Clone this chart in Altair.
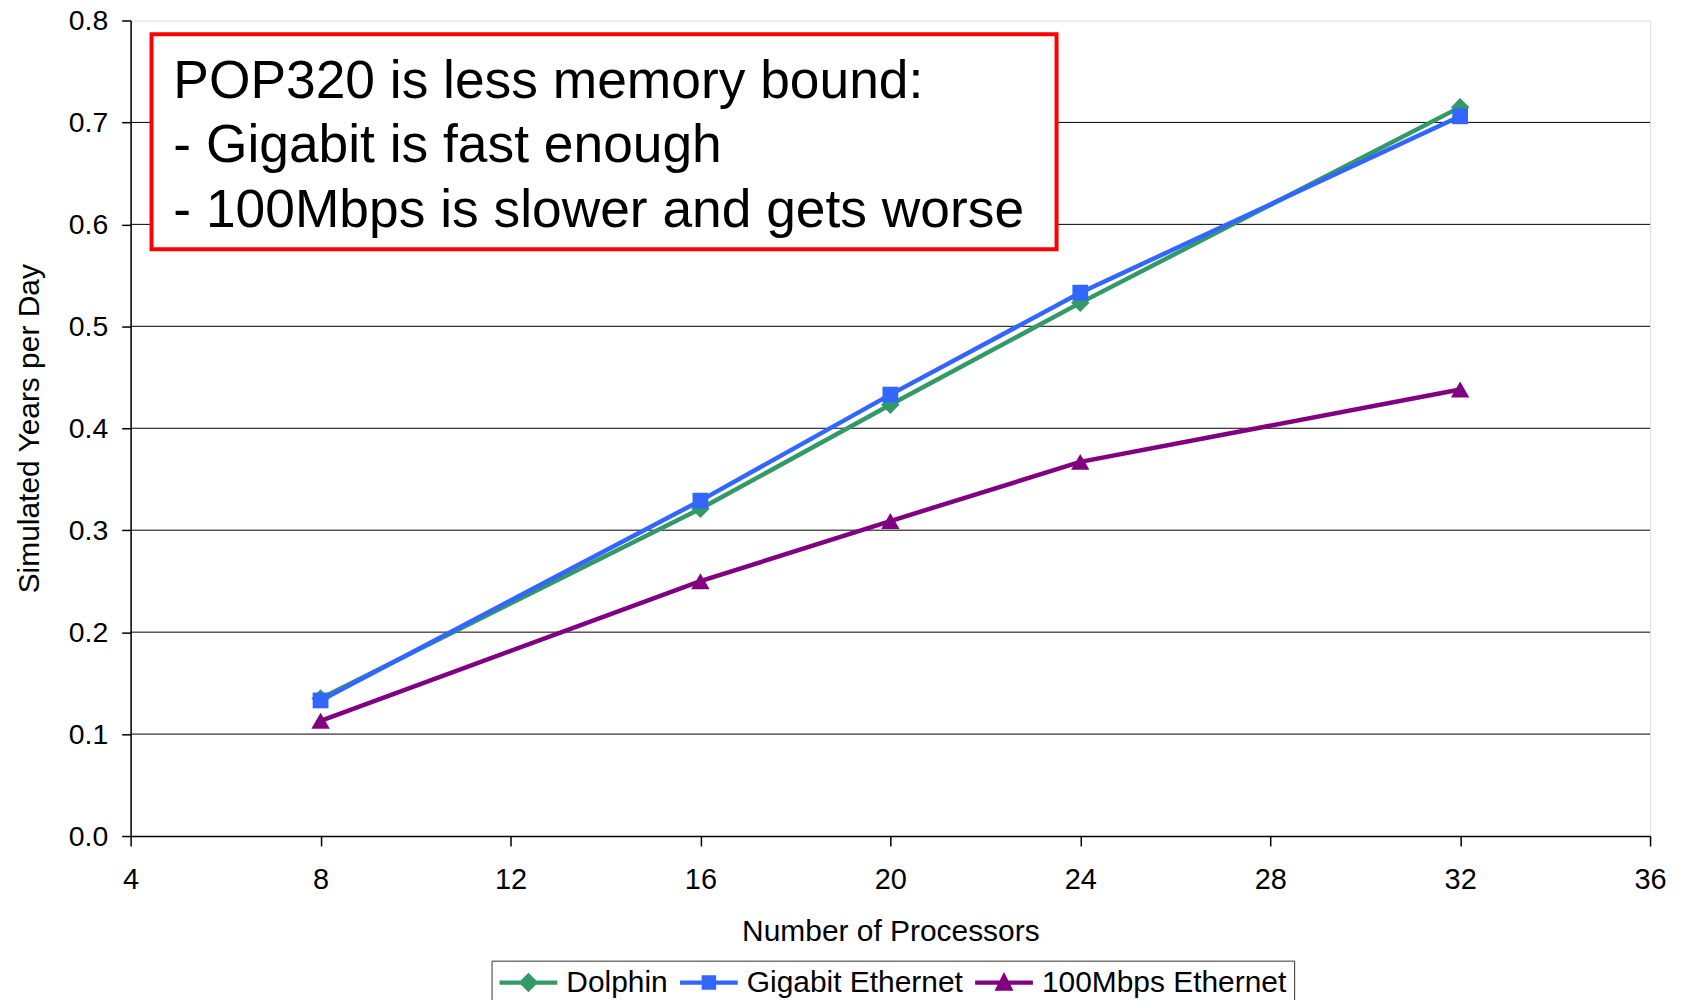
import altair as alt
import pandas as pd

# ---- data ----
processors = [8, 16, 20, 24, 32]
dolphin = [0.135, 0.321, 0.423, 0.523, 0.715]
gigabit = [0.133, 0.329, 0.433, 0.533, 0.706]
mbps100 = [0.113, 0.250, 0.309, 0.367, 0.438]

series_names = ["Dolphin", "Gigabit Ethernet", "100Mbps Ethernet"]
series_values = [dolphin, gigabit, mbps100]
series_colors = ["#339966", "#3366FF", "#800080"]
series_shapes = ["diamond", "square", "triangle-up"]
series_sizes = [340, 250, 340]

# legend symbols: a line segment with the marker in its middle
legend_paths = [
    "M-2.07,-0.15H2.07V0.15H-2.07Z M0,-0.7L0.7,0L0,0.7L-0.7,0Z",
    "M-2.07,-0.15H2.07V0.15H-2.07Z M-0.52,-0.52H0.52V0.52H-0.52Z",
    "M-2.07,-0.15H2.07V0.15H-2.07Z M0,-0.75L0.68,0.58H-0.68Z",
]

x_ticks = [4, 8, 12, 16, 20, 24, 28, 32, 36]
y_ticks = [0.0, 0.1, 0.2, 0.3, 0.4, 0.5, 0.6, 0.7, 0.8]
grid_values = y_ticks[1:-1]

note_lines = [
    "POP320 is less memory bound:",
    "- Gigabit is fast enough",
    "- 100Mbps is slower and gets worse",
]
note_box_x = [4.44, 23.5]
note_box_y = [0.5755, 0.7866]
note_text_x = [4.9]
note_text_y = [0.7243]

x_title = "Number of Processors"
y_title = "Simulated Years per Day"

FONT = "Liberation Sans"

# ---- tables ----
rows = []
for name, vals in zip(series_names, series_values):
    for p, v in zip(processors, vals):
        rows.append({"processors": p, "value": v, "series": name})
df = pd.DataFrame(rows)
grid_df = pd.DataFrame({"g": grid_values})
box_df = pd.DataFrame({"x": [note_box_x[0]], "x2": [note_box_x[1]],
                       "y": [note_box_y[0]], "y2": [note_box_y[1]]})
text_df = pd.DataFrame({"x": note_text_x, "y": note_text_y})

x_scale = alt.Scale(domain=[x_ticks[0], x_ticks[-1]], nice=False, zero=False)
y_scale = alt.Scale(domain=[y_ticks[0], y_ticks[-1]], nice=False, zero=False)

x_axis = alt.Axis(values=x_ticks, title=x_title, grid=False, tickSize=10,
                  labelPadding=20, titlePadding=22, domainColor="black",
                  domainWidth=1.5, tickColor="black", tickWidth=1.5,
                  labelFontSize=29, titleFontSize=30, titleFontWeight="normal",
                  labelColor="black", titleColor="black", labelFont=FONT,
                  titleFont=FONT, labelFlush=False)
y_axis = alt.Axis(values=y_ticks, format=".1f", title=y_title, grid=False,
                  tickSize=9, labelPadding=14, titlePadding=24,
                  domainColor="black", domainWidth=1.5, tickColor="black",
                  tickWidth=1.5, labelFontSize=28.5, titleFontSize=30,
                  titleFontWeight="normal", labelColor="black",
                  titleColor="black", labelFont=FONT, titleFont=FONT,
                  labelFlush=False)

X = alt.X("processors:Q", scale=x_scale, axis=x_axis)
Y = alt.Y("value:Q", scale=y_scale, axis=y_axis)

base = alt.Chart(df)

grid = alt.Chart(grid_df).mark_rule(color="black", strokeWidth=1).encode(
    y=alt.Y("g:Q", scale=y_scale, axis=y_axis)
)

layers = [grid]
for name, c in zip(series_names, series_colors):
    layers.append(
        base.transform_filter(alt.datum.series == name)
        .mark_line(color=c, strokeWidth=4.5)
        .encode(x=X, y=Y)
    )
for name, c, s, sz in zip(series_names, series_colors, series_shapes, series_sizes):
    layers.append(
        base.transform_filter(alt.datum.series == name)
        .mark_point(shape=s, filled=True, color=c, size=sz, opacity=1)
        .encode(x=X, y=Y)
    )

legend_props = dict(
    orient="none", legendX=362, legendY=943, direction="horizontal",
    title=None, labelFontSize=30, labelFont=FONT, labelColor="black",
    labelLimit=0,
    symbolSize=784, symbolOpacity=1, symbolStrokeWidth=0,
    symbolOffset=15, labelOffset=23, columnPadding=11,
    strokeColor="#333333", fillColor="white", padding=7,
)
legend_layer = base.mark_point(filled=True, opacity=0, size=784).encode(
    x=X, y=Y,
    color=alt.Color("series:N",
                    scale=alt.Scale(domain=series_names, range=series_colors),
                    legend=alt.Legend(**legend_props)),
    shape=alt.Shape("series:N",
                    scale=alt.Scale(domain=series_names, range=legend_paths),
                    legend=alt.Legend(**legend_props)),
)
layers.append(legend_layer)

box = alt.Chart(box_df).mark_rect(fill="white", stroke="#FF0000",
                                  strokeWidth=4).encode(
    x=alt.X("x:Q", scale=x_scale), x2="x2:Q",
    y=alt.Y("y:Q", scale=y_scale), y2="y2:Q",
)
note = alt.Chart(text_df).mark_text(
    text=note_lines, align="left", baseline="alphabetic", fontSize=53.5,
    lineHeight=65, font=FONT, color="black",
).encode(x=alt.X("x:Q", scale=x_scale), y=alt.Y("y:Q", scale=y_scale))
layers += [box, note]

chart = alt.layer(*layers).properties(
    width=1524, height=818,
    autosize=alt.AutoSizeParams(type="none"),
    padding={"left": 123, "top": 11, "right": 25, "bottom": 180},
).configure_view(
    stroke="#888888", strokeWidth=2
).configure(font=FONT, background="white")

chart.save("out.html", embed_options={"renderer": "svg", "actions": False})
